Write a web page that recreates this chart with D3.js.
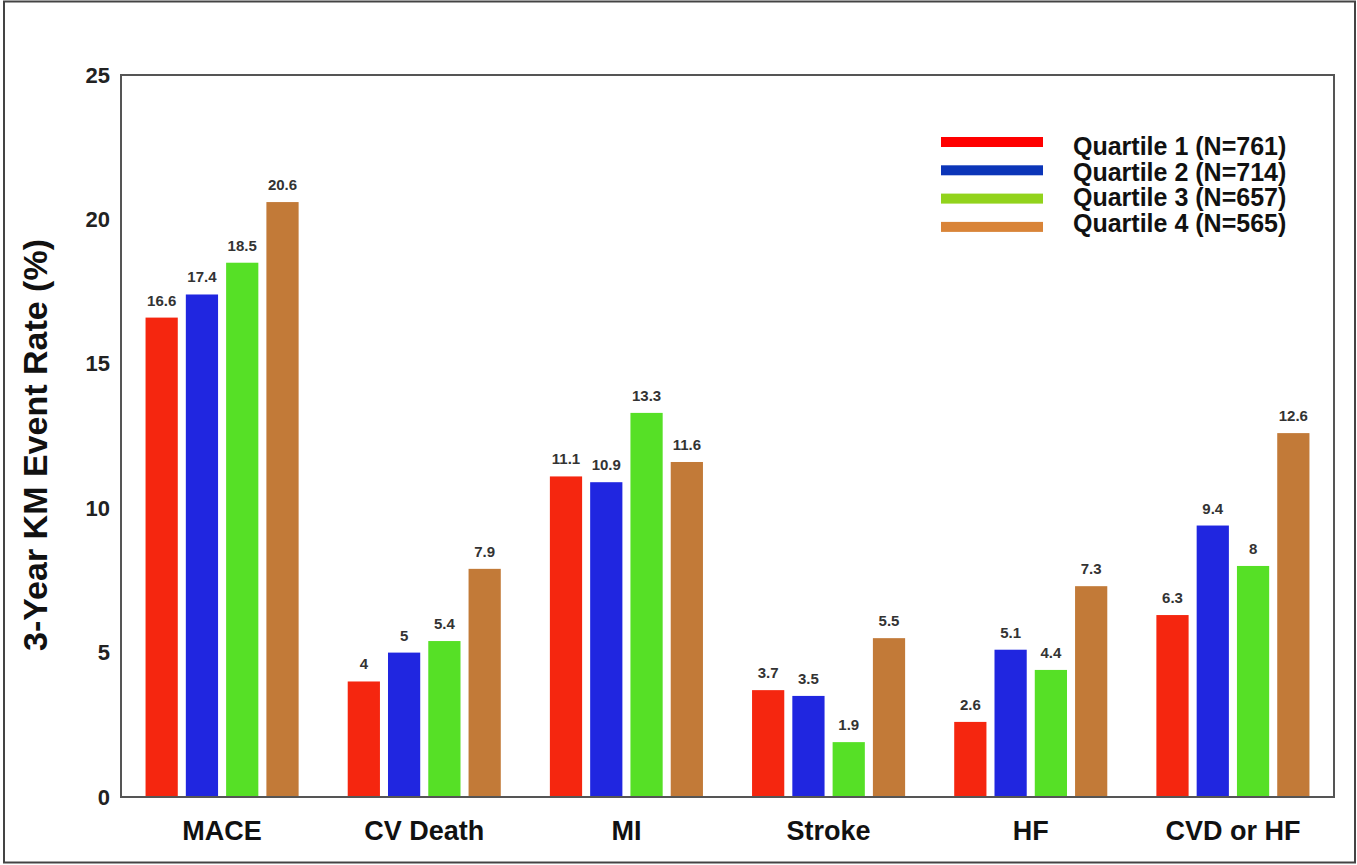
<!DOCTYPE html>
<html>
<head>
<meta charset="utf-8">
<script src="https://cdn.jsdelivr.net/npm/d3@7"></script>
<style>
  html, body { margin: 0; padding: 0; background: #fff; }
  svg { display: block; font-family: "Liberation Sans", Arial, sans-serif; }
</style>
</head>
<body>
<svg id="chart" width="1357" height="865"></svg>
<script>
const categories = ["MACE", "CV Death", "MI", "Stroke", "HF", "CVD or HF"];
const seriesNames = ["Quartile 1 (N=761)", "Quartile 2 (N=714)", "Quartile 3 (N=657)", "Quartile 4 (N=565)"];
const q1 = [16.6, 4, 11.1, 3.7, 2.6, 6.3];
const q2 = [17.4, 5, 10.9, 3.5, 5.1, 9.4];
const q3 = [18.5, 5.4, 13.3, 1.9, 4.4, 8];
const q4 = [20.6, 7.9, 11.6, 5.5, 7.3, 12.6];
const yTicks = [0, 5, 10, 15, 20, 25];

const series = [q1, q2, q3, q4];
const barColors = ["#f5260f", "#2026e0", "#56e026", "#c27a38"];
const legendColors = ["#ff0000", "#0b35b8", "#92d31c", "#d98438"];

const svg = d3.select("#chart");
const m = { left: 121, right: 1334, top: 75, bottom: 797 };

// outer border
svg.append("rect")
  .attr("x", 4).attr("y", 1.5).attr("width", 1351).attr("height", 861)
  .attr("fill", "#fff").attr("stroke", "#444").attr("stroke-width", 2);

const x0 = d3.scaleBand().domain(categories).range([m.left, m.right])
  .paddingInner(0.203).paddingOuter(0.1015);
const x1 = d3.scaleBand().domain(d3.range(series.length)).range([0, x0.bandwidth()])
  .paddingInner(0.2).paddingOuter(0.1);
const y = d3.scaleLinear().domain([0, 25]).range([m.bottom, m.top]);

// bars
const groups = svg.append("g").selectAll("g")
  .data(categories).join("g")
  .attr("transform", d => `translate(${x0(d)},0)`);

groups.each(function(cat, ci) {
  const g = d3.select(this);
  series.forEach((s, si) => {
    g.append("rect")
      .attr("x", x1(si)).attr("width", x1.bandwidth())
      .attr("y", y(s[ci])).attr("height", y(0) - y(s[ci]))
      .attr("fill", barColors[si]);
    g.append("text")
      .attr("x", x1(si) + x1.bandwidth() / 2)
      .attr("y", y(s[ci]) - 12)
      .attr("text-anchor", "middle")
      .attr("font-size", 15).attr("font-weight", "bold")
      .attr("fill", "#333")
      .text(s[ci]);
  });
});

// frame
svg.append("rect")
  .attr("x", m.left).attr("y", m.top)
  .attr("width", m.right - m.left).attr("height", m.bottom - m.top)
  .attr("fill", "none").attr("stroke", "#555").attr("stroke-width", 2);

// y axis
const yAxis = svg.append("g")
  .attr("transform", `translate(${m.left},0)`)
  .call(d3.axisLeft(y).tickValues(yTicks).tickSize(0).tickPadding(11).tickFormat(d3.format("d")));
yAxis.select(".domain").remove();
yAxis.selectAll("text")
  .attr("font-size", 22).attr("font-weight", "bold").attr("fill", "#222")
  .attr("font-family", "'Liberation Sans', Arial, sans-serif");

// x axis labels
const xAxis = svg.append("g")
  .attr("transform", `translate(0,${m.bottom})`)
  .call(d3.axisBottom(x0).tickSize(0).tickPadding(24));
xAxis.select(".domain").remove();
xAxis.selectAll("text")
  .attr("font-size", 27).attr("font-weight", "bold").attr("fill", "#111")
  .attr("font-family", "'Liberation Sans', Arial, sans-serif");

// y title
svg.append("text")
  .attr("transform", `translate(47,${(m.top + m.bottom) / 2 + 9}) rotate(-90)`)
  .attr("text-anchor", "middle")
  .attr("font-size", 34).attr("font-weight", "bold").attr("fill", "#111")
  .text("3-Year KM Event Rate (%)");

// legend
const legend = svg.append("g");
seriesNames.forEach((name, i) => {
  legend.append("rect")
    .attr("x", 941).attr("y", 137 + i * 28.3).attr("width", 102).attr("height", 10)
    .attr("fill", legendColors[i]);
  legend.append("text")
    .attr("x", 1073).attr("y", 155 + i * 25.7)
    .attr("font-size", 25).attr("font-weight", "bold").attr("fill", "#111")
    .text(name);
});
</script>
</body>
</html>
